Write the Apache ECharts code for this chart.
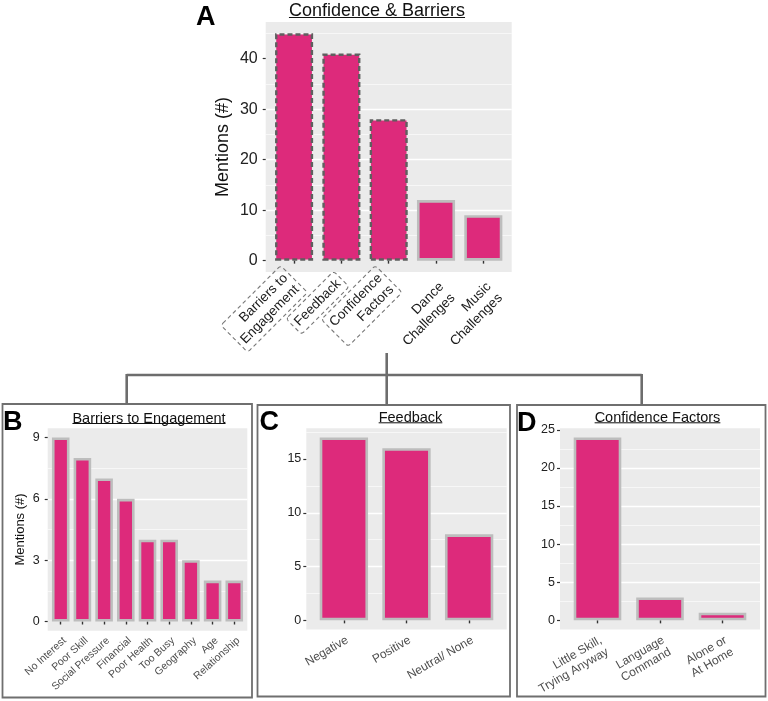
<!DOCTYPE html>
<html><head><meta charset="utf-8">
<script src="https://cdn.jsdelivr.net/npm/echarts@6/dist/echarts.min.js"></script>
<style>html,body{margin:0;padding:0;background:#fff}#c{width:768px;height:701px}</style>
</head><body><div id="c"></div><script>
// ---------- data ----------
const catsA = ['Barriers to\nEngagement', 'Feedback', 'Confidence\nFactors', 'Dance\nChallenges', 'Music\nChallenges'];
const valsA = [45, 41, 28, 12, 9];
const ticksA = [0, 10, 20, 30, 40];

const catsB = ['No Interest', 'Poor Skill', 'Social Pressure', 'Financial', 'Poor Health', 'Too Busy', 'Geography', 'Age', 'Relationship'];
const valsB = [9, 8, 7, 6, 4, 4, 3, 2, 2];
const ticksB = [0, 3, 6, 9];

const catsC = ['Negative', 'Positive', 'Neutral/ None'];
const valsC = [17, 16, 8];
const ticksC = [0, 5, 10, 15];

const catsD = ['Little Skill,\nTrying Anyway', 'Language\nCommand', 'Alone or\nAt Home'];
const valsD = [24, 3, 1];
const ticksD = [0, 5, 10, 15, 20, 25];

const titleA = 'Confidence & Barriers';
const titleB = 'Barriers to Engagement';
const titleC = 'Feedback';
const titleD = 'Confidence Factors';
const yName = 'Mentions (#)';
const detailedA = ['Barriers to\nEngagement', 'Feedback', 'Confidence\nFactors'];

// ---------- style / layout ----------
const FONT = "'Liberation Sans', Arial, Helvetica, sans-serif";
const PINK = '#DD2A7B';
const BORDER = 2.6;
const panels = [
  { letter: 'A', title: titleA, cats: catsA, vals: valsA, ticks: ticksA, split: 5,
    bg: { left: 265.7, top: 22, width: 246, height: 250 }, barFrac: 0.75,
    yFont: 16, yMargin: 8, yName: yName, yNameSize: 18, yNameGap: 34,
    xFont: 13.5, xRot: 45, xColor: '#1a1a1a', xMargin: 7, xLH: 16,
    titleX: 377, titleY: 11, titleSize: 18, ulY: 17.5, letterX: 196, letterY: 17.5 },
  { letter: 'B', title: titleB, cats: catsB, vals: valsB, ticks: ticksB, split: 3,
    bg: { left: 47.7, top: 428.3, width: 199.6, height: 202.4 }, barFrac: 0.69,
    yFont: 12.5, yMargin: 8, yName: yName, yNameSize: 13, yNameGap: 21,
    xFont: 10.5, xRot: 42, xColor: '#4d4d4d', xMargin: 4, xLH: 12,
    titleX: 149, titleY: 418.5, titleSize: 14.5, ulY: 423.5, letterX: 3, letterY: 422.5 },
  { letter: 'C', title: titleC, cats: catsC, vals: valsC, ticks: ticksC, split: 4,
    bg: { left: 306.3, top: 428.3, width: 200.4, height: 201.2 }, barFrac: 0.73,
    yFont: 12.5, yMargin: 5, yName: '', yNameSize: 13, yNameGap: 20,
    xFont: 12, xRot: 30, xColor: '#4d4d4d', xMargin: 4, xLH: 13.5,
    titleX: 410.5, titleY: 417.5, titleSize: 14.5, ulY: 422.8, letterX: 259.5, letterY: 423 },
  { letter: 'D', title: titleD, cats: catsD, vals: valsD, ticks: ticksD, split: 5,
    bg: { left: 560, top: 428.3, width: 200, height: 201.2 }, barFrac: 0.72,
    yFont: 12.5, yMargin: 5, yName: '', yNameSize: 13, yNameGap: 20,
    xFont: 12, xRot: 30, xColor: '#4d4d4d', xMargin: 4, xLH: 13.5,
    titleX: 657.5, titleY: 417.5, titleSize: 14.5, ulY: 422.8, letterX: 517, letterY: 424 }
];

const grids = [], xAxes = [], yAxes = [], series = [], graphics = [];
const measure = (() => { const c = document.createElement('canvas').getContext('2d');
  return (t, size) => { c.font = size + 'px ' + FONT; return c.measureText(t).width; }; })();

panels.forEach((p, i) => {
  const top = Math.max(...p.vals);
  const yMin = -0.05 * top, yMax = 1.05 * top;
  const n = p.cats.length;
  const unit = p.bg.width / (n + 0.2);
  const bgIdx = 2 * i, dIdx = 2 * i + 1;
  grids.push({ left: p.bg.left, top: p.bg.top, width: p.bg.width, height: p.bg.height,
    show: true, backgroundColor: '#EBEBEB', borderWidth: 0 });
  grids.push({ left: p.bg.left + 0.1 * unit, top: p.bg.top, width: n * unit, height: p.bg.height,
    show: false });
  const fmt = v => (p.ticks.some(t => Math.abs(t - v) < 1e-9) ? String(v) : '');
  xAxes.push({ gridIndex: bgIdx, type: 'value', min: 0, max: 1, show: false });
  yAxes.push({ gridIndex: bgIdx, type: 'value', min: yMin, max: yMax, splitNumber: p.split,
    axisLine: { show: false },
    axisTick: { show: true, length: 3, customValues: p.ticks, lineStyle: { color: '#333', width: 1.2 } },
    axisLabel: { customValues: p.ticks, formatter: fmt, margin: p.yMargin, fontSize: p.yFont,
      color: '#222', fontFamily: FONT },
    splitLine: { show: true, showMinLine: false, showMaxLine: false, lineStyle: { color: '#fff', width: 1.3 } },
    minorTick: { show: false, splitNumber: 2 },
    minorSplitLine: { show: true, lineStyle: { color: '#fff', width: 0.6 } },
    name: p.yName, nameLocation: 'middle', nameGap: p.yNameGap,
    nameTextStyle: { fontSize: p.yNameSize, color: '#111', fontFamily: FONT } });
  const catItems = p.cats.map(c => {
    if (i === 0 && detailedA.includes(c)) {
      return { value: c, textStyle: { borderType: [4, 3], borderColor: '#777', borderWidth: 1.1,
        padding: [3, 4], borderRadius: 3 } };
    }
    return c;
  });
  xAxes.push({ gridIndex: dIdx, type: 'category', data: catItems,
    axisLine: { show: false },
    axisTick: { show: true, alignWithLabel: true, length: 3, lineStyle: { color: '#333', width: 1.4 } },
    axisLabel: { interval: 0, rotate: p.xRot, fontSize: p.xFont, color: p.xColor, margin: p.xMargin,
      lineHeight: p.xLH, fontFamily: FONT, align: 'right', verticalAlign: 'top' },
    splitLine: { show: false } });
  yAxes.push({ gridIndex: dIdx, type: 'value', min: yMin, max: yMax, show: false, splitLine: { show: false } });
  series.push({ type: 'bar', xAxisIndex: dIdx, yAxisIndex: dIdx, barWidth: unit * p.barFrac + BORDER, silent: true,
    data: p.vals.map((v, k) => {
      const dashed = i === 0 && detailedA.includes(p.cats[k]);
      return { value: v, itemStyle: dashed
        ? { color: PINK, borderColor: '#5f5f5f', borderWidth: 2.4, borderType: [5, 3] }
        : { color: PINK, borderColor: '#BDBDBD', borderWidth: BORDER } };
    }) });
  // title with underline
  const tw = measure(p.title, p.titleSize);
  graphics.push({ type: 'text', x: p.titleX, y: p.titleY, silent: true,
    style: { text: p.title, fill: '#111', font: p.titleSize + 'px ' + FONT, align: 'center', verticalAlign: 'middle' } });
  graphics.push({ type: 'line', silent: true,
    shape: { x1: p.titleX - tw / 2, y1: p.ulY, x2: p.titleX + tw / 2, y2: p.ulY },
    style: { stroke: '#111', lineWidth: 1 } });
  // panel letter
  graphics.push({ type: 'text', x: p.letterX, y: p.letterY, silent: true, z: 10,
    style: { text: p.letter, fill: '#000', font: 'bold 27px ' + FONT, align: 'left', verticalAlign: 'middle' } });
});

// panel boxes and connectors
const boxStyle = { stroke: '#6f6f6f', lineWidth: 1.8, fill: 'none' };
[[2.5, 404, 249.5, 293.5], [257.5, 405, 252.5, 291.5], [517, 405, 248.5, 291.5]].forEach(r => {
  graphics.push({ type: 'rect', silent: true, z: -1, shape: { x: r[0], y: r[1], width: r[2], height: r[3] }, style: boxStyle });
});
const conn = { stroke: '#6d6d6d', lineWidth: 2.6 };
[[386.7, 353, 386.7, 375], [126.7, 375, 641.7, 375], [126.7, 374, 126.7, 404], [386.7, 375, 386.7, 405], [641.7, 374, 641.7, 405]]
  .forEach(l => graphics.push({ type: 'line', silent: true, shape: { x1: l[0], y1: l[1], x2: l[2], y2: l[3] }, style: conn }));

const chart = echarts.init(document.getElementById('c'));
chart.setOption({
  animation: false,
  backgroundColor: '#fff',
  textStyle: { fontFamily: FONT },
  grid: grids, xAxis: xAxes, yAxis: yAxes, series: series,
  graphic: graphics
});
</script></body></html>
